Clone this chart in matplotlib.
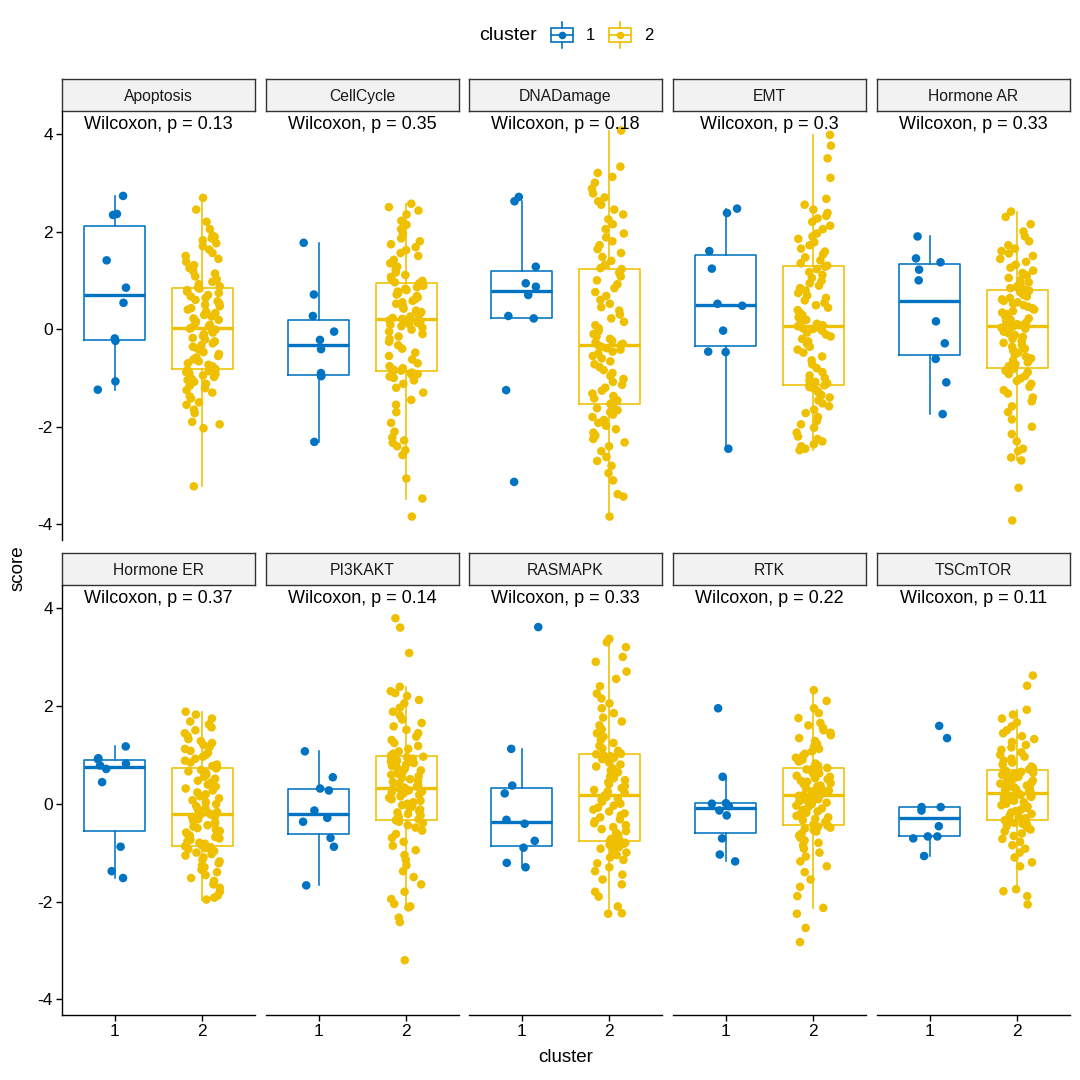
import numpy as np
import matplotlib
matplotlib.use("Agg")
import matplotlib.pyplot as plt
from matplotlib.patches import Rectangle
from matplotlib.lines import Line2D

plt.rcParams['font.family'] = ['Liberation Sans', 'DejaVu Sans']

# ---------------- data ----------------
facets = ['Apoptosis', 'CellCycle', 'DNADamage', 'EMT', 'Hormone AR',
          'Hormone ER', 'PI3KAKT', 'RASMAPK', 'RTK', 'TSCmTOR']
pvalues = ['0.13', '0.35', '0.18', '0.3', '0.33', '0.37', '0.14', '0.33', '0.22', '0.11']
cluster_levels = ['1', '2']
y_ticks = [-4, -2, 0, 2, 4]

c1_apoptosis = [2.73, 2.36, 2.34, 1.41, 0.85, 0.54, -0.19, -0.24, -1.07, -1.24]
c1_cellcycle = [1.77, 0.71, 0.27, -0.05, -0.22, -0.41, -0.90, -0.96, -0.96, -2.31]
c1_dnadamage = [2.71, 2.62, 1.28, 0.94, 0.87, 0.70, 0.27, 0.22, -1.25, -3.13]
c1_emt = [2.47, 2.38, 1.60, 1.24, 0.52, 0.48, -0.03, -0.46, -0.47, -2.45]
c1_hormone_ar = [1.90, 1.45, 1.37, 1.22, 1.00, 0.16, -0.29, -0.61, -1.09, -1.74]
c1_hormone_er = [1.17, 0.93, 0.91, 0.82, 0.78, 0.71, 0.44, -0.88, -1.38, -1.52]
c1_pi3kakt = [1.07, 0.54, 0.31, 0.27, -0.14, -0.29, -0.37, -0.70, -0.88, -1.67]
c1_rasmapk = [3.61, 1.12, 0.37, 0.21, -0.33, -0.41, -0.76, -0.90, -1.21, -1.30]
c1_rtk = [1.95, 0.55, 0.01, 0.00, -0.05, -0.14, -0.24, -0.71, -1.04, -1.18]
c1_tscmtor = [1.59, 1.34, -0.07, -0.07, -0.14, -0.46, -0.67, -0.67, -0.71, -1.07]

c2_apoptosis = [
    -3.22, -2.03, -1.95, -1.90, -1.72, -1.65, -1.55, -1.50, -1.42, -1.38, -1.30, -1.25, -1.21,
    -1.16, -1.12, -1.08, -1.04, -1.01, -0.98, -0.95, -0.92, -0.90, -0.88, -0.86, -0.84,
    -0.82, -0.79, -0.76, -0.73, -0.70, -0.66, -0.62, -0.58, -0.55, -0.51, -0.47, -0.44, -0.40,
    -0.36, -0.33, -0.29, -0.25, -0.21, -0.18, -0.14, -0.10, -0.07, -0.04, -0.01, 0.01,
    0.03, 0.06, 0.09, 0.12, 0.16, 0.19, 0.22, 0.26, 0.29, 0.33, 0.36, 0.40, 0.43,
    0.47, 0.50, 0.53, 0.57, 0.60, 0.64, 0.67, 0.70, 0.74, 0.77, 0.80, 0.83,
    0.85, 0.88, 0.92, 0.97, 1.02, 1.08, 1.14, 1.19, 1.25, 1.31, 1.38, 1.44, 1.50,
    1.56, 1.63, 1.70, 1.76, 1.82, 1.86, 1.89, 1.92, 2.05, 2.20, 2.45, 2.69]
c2_cellcycle = [
    -3.84, -3.47, -3.06, -2.58, -2.48, -2.40, -2.33, -2.28, -2.22, -2.10, -1.92, -1.70, -1.55,
    -1.45, -1.30, -1.20, -1.12, -1.05, -1.00, -0.97, -0.94, -0.92, -0.90, -0.89, -0.87,
    -0.85, -0.83, -0.80, -0.76, -0.70, -0.62, -0.55, -0.48, -0.40, -0.33, -0.26, -0.20, -0.15,
    -0.10, -0.05, -0.01, 0.03, 0.06, 0.09, 0.11, 0.13, 0.15, 0.17, 0.18, 0.19,
    0.21, 0.23, 0.26, 0.29, 0.32, 0.35, 0.38, 0.42, 0.45, 0.48, 0.52, 0.55, 0.58,
    0.61, 0.65, 0.68, 0.71, 0.74, 0.77, 0.80, 0.83, 0.86, 0.89, 0.92, 0.94,
    0.96, 0.99, 1.03, 1.07, 1.11, 1.16, 1.22, 1.28, 1.35, 1.42, 1.50, 1.56, 1.62,
    1.68, 1.74, 1.80, 1.86, 1.95, 2.05, 2.14, 2.22, 2.35, 2.43, 2.50, 2.57]
c2_dnadamage = [
    -3.84, -3.43, -3.38, -3.10, -2.95, -2.80, -2.70, -2.62, -2.50, -2.40, -2.32, -2.25, -2.18,
    -2.12, -2.05, -1.98, -1.92, -1.86, -1.80, -1.75, -1.70, -1.66, -1.62, -1.58, -1.55,
    -1.53, -1.50, -1.46, -1.42, -1.37, -1.32, -1.26, -1.20, -1.14, -1.08, -1.02, -0.96, -0.90,
    -0.84, -0.78, -0.72, -0.66, -0.60, -0.55, -0.50, -0.46, -0.42, -0.39, -0.36, -0.34,
    -0.32, -0.30, -0.27, -0.24, -0.20, -0.15, -0.10, -0.04, 0.02, 0.08, 0.15, 0.22, 0.30,
    0.38, 0.45, 0.52, 0.60, 0.68, 0.76, 0.84, 0.92, 1.00, 1.08, 1.16, 1.23,
    1.25, 1.32, 1.40, 1.48, 1.56, 1.64, 1.72, 1.80, 1.88, 1.96, 2.05, 2.15, 2.25,
    2.35, 2.45, 2.55, 2.62, 2.70, 2.78, 2.88, 3.00, 3.12, 3.20, 3.33, 4.07]
c2_emt = [
    -2.48, -2.45, -2.40, -2.36, -2.30, -2.25, -2.20, -2.12, -2.02, -1.95, -1.88, -1.80, -1.72,
    -1.65, -1.58, -1.52, -1.46, -1.40, -1.35, -1.30, -1.26, -1.22, -1.19, -1.17, -1.15,
    -1.13, -1.11, -1.08, -1.05, -1.00, -0.95, -0.88, -0.80, -0.72, -0.64, -0.56, -0.48, -0.42,
    -0.36, -0.30, -0.25, -0.20, -0.15, -0.11, -0.07, -0.03, 0.00, 0.02, 0.04, 0.06,
    0.08, 0.11, 0.15, 0.19, 0.24, 0.29, 0.34, 0.39, 0.44, 0.49, 0.54, 0.59, 0.64,
    0.69, 0.74, 0.79, 0.84, 0.89, 0.94, 0.99, 1.05, 1.11, 1.17, 1.23, 1.28,
    1.30, 1.35, 1.41, 1.47, 1.53, 1.59, 1.65, 1.72, 1.78, 1.85, 1.90, 1.96, 2.05,
    2.12, 2.20, 2.27, 2.32, 2.38, 2.45, 2.55, 2.67, 3.10, 3.50, 3.76, 3.98]
c2_hormone_ar = [
    -3.92, -3.25, -2.69, -2.63, -2.50, -2.45, -2.30, -2.15, -2.00, -1.85, -1.70, -1.58, -1.48,
    -1.40, -1.32, -1.25, -1.18, -1.12, -1.06, -1.01, -0.96, -0.92, -0.88, -0.85, -0.81,
    -0.79, -0.76, -0.72, -0.68, -0.64, -0.60, -0.56, -0.52, -0.48, -0.44, -0.40, -0.36, -0.32,
    -0.28, -0.24, -0.20, -0.16, -0.12, -0.08, -0.05, -0.02, 0.01, 0.03, 0.05, 0.06,
    0.08, 0.10, 0.13, 0.16, 0.19, 0.22, 0.25, 0.28, 0.31, 0.34, 0.37, 0.40, 0.43,
    0.46, 0.49, 0.52, 0.55, 0.58, 0.61, 0.64, 0.67, 0.70, 0.73, 0.76, 0.79,
    0.81, 0.84, 0.88, 0.92, 0.96, 1.00, 1.05, 1.10, 1.15, 1.20, 1.26, 1.32, 1.38,
    1.44, 1.50, 1.55, 1.60, 1.65, 1.72, 1.80, 1.90, 2.00, 2.15, 2.30, 2.41]
c2_hormone_er = [
    -1.96, -1.92, -1.88, -1.80, -1.72, -1.65, -1.58, -1.52, -1.46, -1.40, -1.35, -1.30, -1.26,
    -1.22, -1.18, -1.14, -1.10, -1.06, -1.03, -1.00, -0.97, -0.95, -0.93, -0.91, -0.89,
    -0.87, -0.85, -0.82, -0.80, -0.77, -0.74, -0.71, -0.68, -0.65, -0.62, -0.59, -0.56, -0.53,
    -0.50, -0.47, -0.44, -0.41, -0.38, -0.35, -0.32, -0.29, -0.27, -0.25, -0.23, -0.22,
    -0.20, -0.17, -0.13, -0.09, -0.05, -0.01, 0.03, 0.07, 0.11, 0.15, 0.19, 0.23, 0.27,
    0.31, 0.35, 0.39, 0.43, 0.47, 0.51, 0.55, 0.59, 0.63, 0.66, 0.69, 0.72,
    0.74, 0.77, 0.80, 0.84, 0.88, 0.92, 0.96, 1.00, 1.04, 1.08, 1.12, 1.16, 1.20,
    1.24, 1.28, 1.32, 1.38, 1.44, 1.50, 1.56, 1.62, 1.68, 1.74, 1.82, 1.88]
c2_pi3kakt = [
    -3.20, -2.42, -2.33, -2.12, -2.10, -2.05, -1.95, -1.80, -1.65, -1.50, -1.38, -1.26, -1.15,
    -1.05, -0.95, -0.86, -0.78, -0.70, -0.62, -0.55, -0.49, -0.44, -0.40, -0.37, -0.34,
    -0.32, -0.30, -0.27, -0.24, -0.21, -0.18, -0.15, -0.12, -0.09, -0.06, -0.03, 0.00, 0.03,
    0.06, 0.09, 0.12, 0.15, 0.18, 0.21, 0.23, 0.25, 0.27, 0.29, 0.30, 0.31,
    0.33, 0.35, 0.38, 0.41, 0.44, 0.47, 0.50, 0.53, 0.56, 0.59, 0.62, 0.65, 0.68,
    0.71, 0.74, 0.77, 0.80, 0.83, 0.86, 0.88, 0.90, 0.92, 0.94, 0.95, 0.96,
    0.98, 1.02, 1.07, 1.12, 1.18, 1.24, 1.30, 1.37, 1.44, 1.51, 1.58, 1.65, 1.72,
    1.80, 1.88, 1.96, 2.05, 2.12, 2.20, 2.26, 2.30, 2.39, 3.08, 3.60, 3.79]
c2_rasmapk = [
    -2.25, -2.24, -2.10, -1.90, -1.80, -1.65, -1.55, -1.45, -1.38, -1.30, -1.22, -1.15, -1.10,
    -1.05, -1.00, -0.96, -0.92, -0.89, -0.86, -0.84, -0.82, -0.80, -0.79, -0.78, -0.77,
    -0.75, -0.72, -0.68, -0.64, -0.60, -0.56, -0.52, -0.48, -0.44, -0.40, -0.36, -0.32, -0.28,
    -0.24, -0.20, -0.16, -0.12, -0.08, -0.04, 0.00, 0.04, 0.08, 0.11, 0.14, 0.17,
    0.19, 0.22, 0.25, 0.28, 0.32, 0.36, 0.40, 0.44, 0.48, 0.52, 0.56, 0.60, 0.64,
    0.68, 0.72, 0.76, 0.80, 0.84, 0.88, 0.91, 0.94, 0.97, 0.99, 1.01, 1.02,
    1.04, 1.08, 1.13, 1.18, 1.24, 1.30, 1.37, 1.44, 1.52, 1.60, 1.68, 1.76, 1.85,
    1.95, 2.05, 2.15, 2.25, 2.40, 2.55, 2.70, 2.90, 3.00, 3.20, 3.30, 3.37]
c2_rtk = [
    -2.83, -2.54, -2.25, -2.13, -1.89, -1.70, -1.55, -1.40, -1.28, -1.18, -1.08, -1.00, -0.92,
    -0.85, -0.80, -0.75, -0.70, -0.65, -0.61, -0.57, -0.54, -0.51, -0.49, -0.47, -0.45,
    -0.43, -0.40, -0.37, -0.34, -0.31, -0.28, -0.25, -0.22, -0.19, -0.16, -0.13, -0.10, -0.07,
    -0.04, -0.01, 0.02, 0.05, 0.07, 0.09, 0.11, 0.12, 0.13, 0.14, 0.15, 0.16,
    0.18, 0.20, 0.22, 0.25, 0.27, 0.30, 0.32, 0.35, 0.37, 0.40, 0.42, 0.45, 0.47,
    0.50, 0.52, 0.55, 0.57, 0.60, 0.62, 0.64, 0.66, 0.68, 0.70, 0.72, 0.73,
    0.75, 0.78, 0.82, 0.86, 0.90, 0.94, 0.98, 1.02, 1.07, 1.12, 1.17, 1.22, 1.28,
    1.34, 1.40, 1.45, 1.50, 1.55, 1.60, 1.65, 1.75, 1.85, 1.95, 2.10, 2.32]
c2_tscmtor = [
    -2.06, -1.89, -1.79, -1.75, -1.28, -1.20, -1.10, -1.00, -0.92, -0.85, -0.78, -0.72, -0.66,
    -0.61, -0.57, -0.53, -0.49, -0.46, -0.43, -0.41, -0.39, -0.37, -0.36, -0.35, -0.34,
    -0.32, -0.30, -0.27, -0.24, -0.21, -0.18, -0.15, -0.12, -0.09, -0.06, -0.03, 0.00, 0.03,
    0.06, 0.08, 0.10, 0.12, 0.14, 0.15, 0.16, 0.17, 0.18, 0.19, 0.20, 0.21,
    0.23, 0.25, 0.27, 0.29, 0.31, 0.33, 0.35, 0.37, 0.39, 0.41, 0.43, 0.45, 0.47,
    0.49, 0.51, 0.53, 0.55, 0.57, 0.59, 0.61, 0.63, 0.65, 0.66, 0.67, 0.68,
    0.70, 0.73, 0.76, 0.80, 0.84, 0.88, 0.92, 0.96, 1.00, 1.05, 1.10, 1.15, 1.20,
    1.26, 1.32, 1.38, 1.44, 1.50, 1.58, 1.66, 1.74, 1.82, 1.92, 2.41, 2.62]

cluster1_values = [c1_apoptosis, c1_cellcycle, c1_dnadamage, c1_emt, c1_hormone_ar,
                   c1_hormone_er, c1_pi3kakt, c1_rasmapk, c1_rtk, c1_tscmtor]
cluster2_values = [c2_apoptosis, c2_cellcycle, c2_dnadamage, c2_emt, c2_hormone_ar,
                   c2_hormone_er, c2_pi3kakt, c2_rasmapk, c2_rtk, c2_tscmtor]

# ---------------- style ----------------
colors = ['#0073C2', '#EFC000']
W, H = 1080, 1080
col_x = [(62, 255), (266, 459), (469, 662), (673, 866), (877, 1070)]
row_y = [((79, 111), (111, 540)), ((553, 585), (585, 1015))]
ylim = (-4.32, 4.47)

fig = plt.figure(figsize=(W / 100, H / 100), dpi=100)


def frac(x0, y0, x1, y1):
    return [x0 / W, 1 - y1 / H, (x1 - x0) / W, (y1 - y0) / H]


def jitter(n, seed):
    # deterministic hash-style horizontal jitter (position only), width 0.4
    i = np.arange(1, n + 1)
    u = np.sin(i * 12.9898 + seed * 78.233) * 43758.5453
    u = u - np.floor(u)
    return (u - 0.5) * 0.4


for k, name in enumerate(facets):
    r, c = divmod(k, 5)
    (sy0, sy1), (py0, py1) = row_y[r]
    x0, x1 = col_x[c]
    # strip
    sax = fig.add_axes(frac(x0, sy0, x1, sy1))
    sax.set_facecolor('#F2F2F2')
    sax.set_xticks([]); sax.set_yticks([])
    for sp in sax.spines.values():
        sp.set_color('#333333'); sp.set_linewidth(1.0)
    sax.text(0.5, 0.45, name, ha='center', va='center', fontsize=11.3,
             color='#1A1A1A', transform=sax.transAxes)
    # panel
    ax = fig.add_axes(frac(x0, py0, x1, py1))
    ax.set_xlim(0.4, 2.6)
    ax.set_ylim(*ylim)
    groups = [cluster1_values[k], cluster2_values[k]]
    for g, vals in enumerate(groups):
        col = colors[g]
        ax.boxplot([vals], positions=[g + 1], widths=0.7, whis=1.5, showfliers=False,
                   showcaps=False, manage_ticks=False,
                   boxprops=dict(color=col, linewidth=1.15),
                   whiskerprops=dict(color=col, linewidth=1.15),
                   medianprops=dict(color=col, linewidth=2.4, solid_capstyle='butt'))
        v = np.asarray(vals)
        ax.scatter(g + 1 + jitter(len(v), k + 1 + 11 * g), v, s=38, color=col,
                   edgecolors='none', zorder=3)
    ax.text(1.5, 4.2, f'Wilcoxon, p = {pvalues[k]}', ha='center', va='center',
            fontsize=13, color='black')
    for sp in ['top', 'right']:
        ax.spines[sp].set_visible(False)
    ax.spines['left'].set_visible(c == 0)
    ax.spines['bottom'].set_visible(r == 1)
    ax.spines['left'].set_linewidth(1.0)
    ax.spines['bottom'].set_linewidth(1.0)
    ax.tick_params(axis='both', direction='out', length=4, width=1.0, labelsize=12.5,
                   pad=2.5, colors='black')
    if c == 0:
        ax.set_yticks(y_ticks)
        ax.set_yticklabels([str(t) for t in y_ticks])
    else:
        ax.set_yticks([])
    if r == 1:
        ax.set_xticks([1, 2])
        ax.set_xticklabels(cluster_levels)
    else:
        ax.set_xticks([])
    ax.patch.set_alpha(0)

# axis titles
fig.text(18 / W, 1 - 568 / H, 'score', rotation=90, ha='center', va='center', fontsize=13.5)
fig.text(566 / W, 1 - 1058 / H, 'cluster', ha='center', va='center', fontsize=13.5)

# legend
lax = fig.add_axes([0, 0, 1, 1], zorder=-1)
lax.set_xlim(0, W); lax.set_ylim(H, 0); lax.axis('off')
lax.text(508, 35, 'cluster', ha='center', va='center', fontsize=14)
for i, (lab, xc) in enumerate([('1', 561.5), ('2', 619.5)]):
    col = colors[i]
    lax.add_patch(Rectangle((xc - 11, 28), 22, 14, fill=False, edgecolor=col, linewidth=1.2))
    lax.add_line(Line2D([xc, xc], [22, 28], color=col, linewidth=1.2))
    lax.add_line(Line2D([xc, xc], [42, 48], color=col, linewidth=1.2))
    lax.add_line(Line2D([xc - 11, xc + 11], [35, 35], color=col, linewidth=1.2))
    lax.plot([xc], [35], 'o', color=col, markersize=5.5, markeredgewidth=0)
    lax.text(xc + 29, 35, lab, ha='center', va='center', fontsize=12)

fig.savefig('out.png', dpi=100)
